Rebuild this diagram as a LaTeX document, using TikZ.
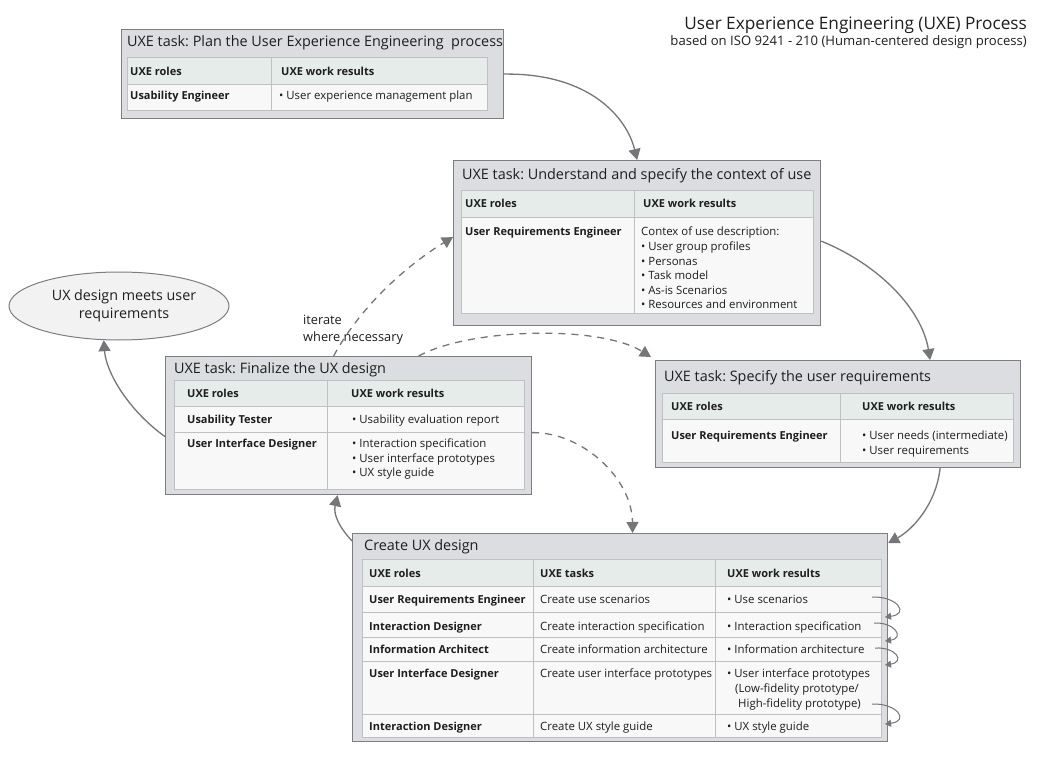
\documentclass[tikz,border=0pt]{standalone}
\usepackage{fontspec}
\setmainfont{Open Sans}
\usetikzlibrary{arrows.meta,shapes.geometric}
\definecolor{boxfill}{HTML}{DCDDE1}
\definecolor{boxborder}{HTML}{7E7E80}
\definecolor{hdrfill}{HTML}{E6ECEA}
\definecolor{cellfill}{HTML}{F8F8F8}
\definecolor{cellborder}{HTML}{BFC0C2}
\definecolor{arrowc}{HTML}{75757A}
\definecolor{txt}{HTML}{1E1E1E}
\definecolor{ellfill}{HTML}{F2F2F2}
\frenchspacing
\tikzset{
  box/.style={draw=boxborder, fill=boxfill, line width=1.2pt, inner sep=0pt, anchor=north west, rectangle},
  hdr/.style={draw=cellborder, fill=hdrfill, line width=0.8pt},
  cell/.style={draw=cellborder, fill=cellfill, line width=0.8pt},
  ttl/.style={anchor=base west, inner sep=0pt, text=txt, font=\fontsize{14.4}{17}\selectfont},
  th/.style={anchor=base west, inner sep=0pt, text=txt, font=\bfseries\fontsize{11}{13}\selectfont},
  td/.style={anchor=base west, inner sep=0pt, text=txt, font=\fontsize{11.4}{13}\selectfont},
  flow/.style={draw=arrowc, line width=1.3pt, -{Triangle[width=12pt,length=11pt]}},
  iter/.style={flow, dash pattern=on 7pt off 6pt},
  loopar/.style={draw=arrowc, line width=1pt, -{Triangle[width=7pt,length=6pt]}},
}
\begin{document}
\begin{tikzpicture}[x=1pt,y=-1pt]
\useasboundingbox (0,0) rectangle (1055,757);
\fill[white] (0,0) rectangle (1055,757);

% Header title
\node[anchor=base east, inner sep=0pt, text=txt, font=\fontsize{17.2}{20}\selectfont] (maintitle) at (1027,30) {User Experience Engineering (UXE) Process};
\node[anchor=base east, inner sep=0pt, text=txt, font=\fontsize{13.1}{15}\selectfont] (subtitle) at (1027,46) {based on ISO 9241 - 210 (Human-centered design process)};

% Ellipse
\node[draw=boxborder, fill=ellfill, line width=1pt, ellipse, minimum width=220pt, minimum height=68pt, inner sep=0pt] (goal) at (119,306) {};
\node[align=center, inner sep=0pt, text=txt, font=\fontsize{14.3}{18}\selectfont] (goaltxt) at (124,306) {UX design meets user\\requirements};

% ===== Plan box =====
\node[box, minimum width=382pt, minimum height=89pt] (plan) at (121,29) {};
\draw[hdr] (127,57) rectangle (271,84);
\draw[hdr] (271,57) rectangle (487,84);
\draw[cell] (127,84) rectangle (271,110);
\draw[cell] (271,84) rectangle (487,110);
\node[ttl] (plant) at (127,47) {UXE task: Plan the User Experience Engineering\ \ process};
\node[th] (plan11) at (130,76) {UXE roles};
\node[th] (plan12) at (281,76) {UXE work results};
\node[th] (plan21) at (130,100) {Usability Engineer};
\node[td] (plan22) at (279,100) {\textbullet\ User experience management plan};

% ===== Context box =====
\node[box, minimum width=367pt, minimum height=165pt] (ctx) at (453,160) {};
\draw[hdr] (461,190) rectangle (634,217);
\draw[hdr] (634,190) rectangle (813,217);
\draw[cell] (461,217) rectangle (634,313);
\draw[cell] (634,217) rectangle (813,313);
\node[ttl] (ctxt) at (462,179) {UXE task: Understand and specify the context of use};
\node[th] (ctx11) at (465,207) {UXE roles};
\node[th] (ctx12) at (643,207) {UXE work results};
\node[th] (ctx21) at (465,235) {User Requirements Engineer};
\node[td, align=left, anchor=north west, font=\fontsize{11.4}{14.6}\selectfont] (ctx22) at (641,227) {Contex of use description:\\\textbullet\ User group profiles\\\textbullet\ Personas\\\textbullet\ Task model\\\textbullet\ As-is Scenarios\\\textbullet\ Resources and environment};

% ===== Finalize box =====
\node[box, minimum width=366pt, minimum height=138pt] (fin) at (165,356) {};
\draw[hdr] (174,380) rectangle (327,406);
\draw[hdr] (327,380) rectangle (524,406);
\draw[cell] (174,406) rectangle (327,432);
\draw[cell] (327,406) rectangle (524,432);
\draw[cell] (174,432) rectangle (327,489);
\draw[cell] (327,432) rectangle (524,489);
\node[ttl] (fint) at (174,373) {UXE task: Finalize the UX design};
\node[th] (fin11) at (187,397) {UXE roles};
\node[th] (fin12) at (351,397) {UXE work results};
\node[th] (fin21) at (187,423) {Usability Tester};
\node[td] (fin22) at (352,423) {\textbullet\ Usability evaluation report};
\node[th] (fin31) at (187,447) {User Interface Designer};
\node[td, align=left, anchor=north west, font=\fontsize{11.4}{14.5}\selectfont] (fin32) at (352,439) {\textbullet\ Interaction specification\\\textbullet\ User interface prototypes\\\textbullet\ UX style guide};

% ===== Specify box =====
\node[box, minimum width=365pt, minimum height=107pt] (spec) at (655,360) {};
\draw[hdr] (662,393) rectangle (840,419);
\draw[hdr] (840,393) rectangle (1013,419);
\draw[cell] (662,419) rectangle (840,462);
\draw[cell] (840,419) rectangle (1013,462);
\node[ttl] (spect) at (664,381) {UXE task: Specify the user requirements};
\node[th] (spec11) at (671,410) {UXE roles};
\node[th] (spec12) at (862,410) {UXE work results};
\node[th] (spec21) at (671,439) {User Requirements Engineer};
\node[td, align=left, anchor=north west, font=\fontsize{11.4}{14.5}\selectfont] (spec22) at (862,431) {\textbullet\ User needs (intermediate)\\\textbullet\ User requirements};

% ===== Create box =====
\node[box, minimum width=535pt, minimum height=208pt] (create) at (352,533) {};
\draw[hdr] (362,559) rectangle (533,586);
\draw[hdr] (533,559) rectangle (715,586);
\draw[hdr] (715,559) rectangle (881,586);
\foreach \ya/\yb in {586/612,612/637,637/661,661/714,714/737}{
  \draw[cell] (362,\ya) rectangle (533,\yb);
  \draw[cell] (533,\ya) rectangle (715,\yb);
  \draw[cell] (715,\ya) rectangle (881,\yb);
}
\node[ttl] (createt) at (364,550) {Create UX design};
\node[th] (cr01) at (369,577) {UXE roles};
\node[th] (cr02) at (540,577) {UXE tasks};
\node[th] (cr03) at (727,577) {UXE work results};
\node[th] (cr11) at (369,603) {User Requirements Engineer};
\node[td] (cr12) at (540,603) {Create use scenarios};
\node[td] (cr13) at (727,603) {\textbullet\ Use scenarios};
\node[th] (cr21) at (369,630) {Interaction Designer};
\node[td] (cr22) at (540,630) {Create interaction specification};
\node[td] (cr23) at (727,630) {\textbullet\ Interaction specification};
\node[th] (cr31) at (369,653) {Information Architect};
\node[td] (cr32) at (540,653) {Create information architecture};
\node[td] (cr33) at (727,653) {\textbullet\ Information architecture};
\node[th] (cr41) at (369,677) {User Interface Designer};
\node[td] (cr42) at (540,677) {Create user interface prototypes};
\node[td] (cr43a) at (727,677) {\textbullet\ User interface prototypes};
\node[td] (cr43b) at (735,692) {(Low-fidelity prototype/};
\node[td] (cr43c) at (738,707) {High-fidelity prototype)};
\node[th] (cr51) at (369,730) {Interaction Designer};
\node[td] (cr52) at (540,730) {Create UX style guide};
\node[td] (cr53) at (727,730) {\textbullet\ UX style guide};

% iterate label
\node[anchor=base west, inner sep=0pt, text=txt, font=\fontsize{12.8}{15}\selectfont] (iterlbl) at (303,324) {iterate};
\node[anchor=base west, inner sep=0pt, text=txt, font=\fontsize{12.8}{15}\selectfont] (iterlbl2) at (303,341) {where necessary};

% ===== Connectors =====
\draw[flow] (plan.east) .. controls (590,73) and (627,118) .. (ctx.north);
\draw[flow] ([yshift=2pt]ctx.east) .. controls (880,265) and (922,310) .. ([xshift=92pt]spec.north);
\draw[flow] ([xshift=102pt]spec.south) .. controls (936,505) and (912,530) .. ([yshift=-10pt]create.north east);
\draw[flow] ([yshift=-8pt]create.north west) .. controls (340,528) and (333,515) .. ([xshift=-11pt]fin.south);
\draw[flow] ([yshift=-11pt]fin.west) .. controls (128,410) and (106,372) .. (goal.-114);
\draw[iter] ([xshift=-15pt]fin.north) .. controls (363,302) and (412,262) .. ([yshift=6pt]ctx.west);
\draw[iter] ([xshift=70pt]fin.north) .. controls (470,328) and (600,325) .. ([xshift=-4pt,yshift=3pt]spec.north west);
\draw[iter] ([yshift=-7pt]fin.east) .. controls (582,432) and (632,478) .. ([xshift=12.5pt]create.north);

% loop arrows
\coordinate (l1s) at (872,597);
\coordinate (l1e) at (885,617);
\coordinate (l2s) at (874,623);
\coordinate (l2e) at (885,641);
\coordinate (l3s) at (875,648);
\coordinate (l3e) at (885,665);
\coordinate (l4s) at (872,704);
\coordinate (l4e) at (885,724);
\draw[loopar] (l1s) .. controls (897,596) and (910,614) .. (l1e);
\draw[loopar] (l2s) .. controls (895,622) and (905,638) .. (l2e);
\draw[loopar] (l3s) .. controls (897,647) and (905,662) .. (l3e);
\draw[loopar] (l4s) .. controls (897,703) and (910,721) .. (l4e);
\end{tikzpicture}
\end{document}
